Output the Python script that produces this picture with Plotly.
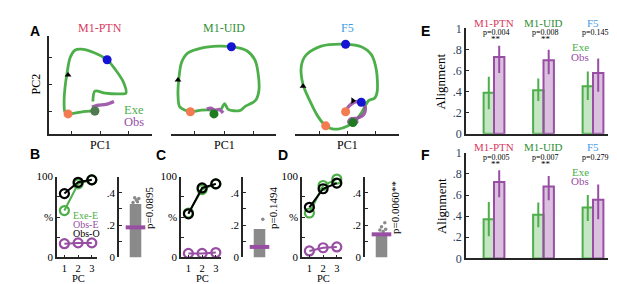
import plotly.graph_objects as go

W, H = 617, 284
SERIF = "Liberation Serif, Times New Roman, serif"
SANS = "Liberation Sans, Arial, sans-serif"

GREEN = "#4daf4a"
PURPLE = "#984ea3"
ORANGE = "#f47a52"
BLUE = "#1414d2"
DKGREEN = "#1e7b1e"
AXC = "#262626"
C_PTN = "#d9385e"
C_UID = "#2f8f35"
C_F5 = "#3d9be9"

# ---------------- DATA ----------------
# A: neural trajectories in PC1/PC2 space
ptn_exe_x = [-0.25, -0.18, 0.18, 0.63, 0.91, 0.81, 0.53, 0.25, -0.18, -0.67, -0.88, -1.05, -1.16, -1.23, -1.26, -1.23, -1.12, -0.67, -0.18]
ptn_exe_y = [-0.63, -0.25, -0.32, -0.35, -0.32, 0.11, 0.56, 0.91, 1.16, 1.30, 1.26, 0.98, 0.39, -0.14, -0.70, -1.02, -1.09, -1.02, -0.98]
ptn_obs_x = [-0.28, -0.07, 0.21, 0.49]
ptn_obs_y = [-0.84, -0.77, -0.74, -0.63]
ptn_orange = [[-1.12], [-1.09]]
ptn_blue = [[0.25], [0.91]]
ptn_green = [[-0.18], [-0.98]]
ptn_arrow = [[-1.12], [0.35]]

uid_exe_x = [-0.09, 0.02, 0.14, 0.53, 0.72, 1.06, 1.18, 1.15, 1.04, 0.76, 0.25, -0.20, -0.77, -1.22, -1.44, -1.53, -1.56, -1.50, -1.14, -0.77, -0.37, -0.34]
uid_exe_y = [-0.92, -0.71, -0.92, -0.97, -0.81, -0.60, -0.25, 0.46, 0.92, 1.25, 1.39, 1.41, 1.34, 1.16, 0.81, 0.22, -0.36, -0.83, -1.01, -0.95, -0.97, -1.09]
uid_obs_x = [-0.58, -0.45, -0.30, -0.15, -0.03]
uid_obs_y = [-0.91, -0.88, -0.95, -0.93, -1.05]
uid_orange = [[-1.14], [-1.01]]
uid_blue = [[0.25], [1.39]]
uid_green = [[-0.34], [-1.09]]
uid_arrow = [[-1.56], [0.16]]

f5_exe_x = [0.63, 0.51, 0.33, 0.04, -0.32, -0.56, -0.76, -1.04, -1.33, -1.57, -1.63, -1.45, -0.92, -0.05, 0.51, 0.87, 1.05, 1.08, 0.99, 0.77, 0.63]
f5_exe_y = [-0.83, -1.06, -1.30, -1.53, -1.65, -1.63, -1.53, -1.18, -0.60, -0.01, 0.69, 1.10, 1.41, 1.48, 1.39, 1.10, 0.52, -0.25, -0.50, -0.60, -0.83]
f5_obs_x = [-0.05, 0.06, 0.30, 0.51, 0.65, 0.61, 0.39, 0.13, 0.06, 0.18, 0.35, 0.30]
f5_obs_y = [-1.01, -0.81, -0.64, -0.66, -0.83, -1.09, -1.24, -1.27, -1.39, -1.48, -1.39, -1.24]
f5_orange = [[-0.76, -0.05], [-1.53, -1.01]]
f5_blue = [[-0.05, 0.51], [1.48, -0.66]]
f5_green = [[0.21], [-1.41]]
f5_arrow_up = [[-1.57], [-0.07]]
f5_arrow_right = [[0.21], [-0.60]]

# B-D: variance explained (%) by PC 1..3
pcs = [1, 2, 3]
B_exeE = [58, 91, 96]
B_obsE = [17, 18, 18]
B_obsO = [79, 93, 96]
C_exeE = [55, 84, 91]
C_obsE = [5, 5, 6]
C_obsO = [54, 86, 91]
D_exeE = [55, 89, 97]
D_obsE = [8, 12, 13]
D_obsO = [62, 85, 92]

# B-D: shuffled distribution (bulk top, outliers) and observed value
B_shuf_top = 0.33
B_out_x = [-0.15, 0.05, 0.2, -0.05, 0.12]
B_out_y = [0.34, 0.355, 0.365, 0.37, 0.345]
B_obs = 0.186
B_p = "p=0.0895"
C_shuf_top = 0.176
C_out_x = [0.2]
C_out_y = [0.236]
C_obs = 0.065
C_p = "p=0.1494"
D_shuf_top = 0.148
D_out_x = [0.1, 0.25, -0.1, 0.0, 0.2]
D_out_y = [0.16, 0.175, 0.17, 0.19, 0.215]
D_obs = 0.143
D_p = "p=0.0060**"

# E-F: alignment
groups = ["M1-PTN", "M1-UID", "F5"]
group_colors = [C_PTN, C_UID, C_F5]
E_exe = [0.39, 0.414, 0.45]
E_exe_lo = [0.234, 0.31, 0.32]
E_exe_hi = [0.54, 0.525, 0.59]
E_obs = [0.727, 0.697, 0.577]
E_obs_lo = [0.577, 0.565, 0.40]
E_obs_hi = [0.835, 0.796, 0.715]
E_p = ["p=0.004", "p=0.008", "p=0.145"]
E_star = ["**", "**", ""]
F_exe = [0.37, 0.414, 0.483]
F_exe_lo = [0.21, 0.294, 0.354]
F_exe_hi = [0.535, 0.53, 0.60]
F_obs = [0.724, 0.68, 0.556]
F_obs_lo = [0.58, 0.55, 0.37]
F_obs_hi = [0.835, 0.78, 0.70]
F_p = ["p=0.005", "p=0.007", "p=0.279"]
F_star = ["**", "**", ""]

# ---------------- helpers ----------------
def dx(a, b):
    return [a / W, b / W]

def dy(top, bottom):
    return [1 - bottom / H, 1 - top / H]

fig = go.Figure()
ann = []

def txt(x, y, s, size=11, color="black", family=SERIF, angle=0, xanchor="center"):
    ann.append(dict(x=x / W, y=1 - y / H, xref="paper", yref="paper", text=s,
                    showarrow=False, textangle=angle, xanchor=xanchor, yanchor="middle",
                    font=dict(family=family, size=size, color=color)))

def base_axis(**kw):
    d = dict(showgrid=False, zeroline=False, showline=True, linecolor=AXC, linewidth=1.5,
             ticks="inside", ticklen=3, tickcolor=AXC, tickwidth=1.2,
             tickfont=dict(family=SERIF, size=11, color="black"), fixedrange=True)
    d.update(kw)
    return d

layout_axes = {}

# ---------- A panels ----------
A_specs = [
    (1, 41, 144, 92, 28.5, True, ptn_exe_x, ptn_exe_y, ptn_obs_x, ptn_obs_y, ptn_orange, ptn_blue, ptn_green, [ptn_arrow], "M1-PTN", C_PTN),
    (2, 163, 268, 216, 29.5, False, uid_exe_x, uid_exe_y, uid_obs_x, uid_obs_y, uid_orange, uid_blue, uid_green, [uid_arrow], "M1-UID", C_UID),
    (3, 287, 391, 339, 28.0, False, f5_exe_x, f5_exe_y, f5_obs_x, f5_obs_y, f5_orange, f5_blue, f5_green, [f5_arrow_up], "F5", C_F5),
]
for (i, x0, x1, xc, sp, showy, ex, ey, ox, oy, orng, blu, grn, arrows, title, tcol) in A_specs:
    xa = "x" if i == 1 else f"x{i}"
    ya = "y" if i == 1 else f"y{i}"
    layout_axes["xaxis" if i == 1 else f"xaxis{i}"] = base_axis(
        domain=dx(x0, x1), range=[(x0 - xc) / sp, (x1 - xc) / sp], anchor=ya,
        tickvals=[-1, 0, 1], showticklabels=False)
    yk = "yaxis" if i == 1 else f"yaxis{i}"
    if showy:
        layout_axes[yk] = base_axis(domain=dy(22, 125), range=[(73 - 125) / 28.5, (73 - 22) / 28.5],
                                    anchor=xa, tickvals=[-1, 0, 1], showticklabels=False)
    else:
        layout_axes[yk] = dict(domain=dy(22, 125), range=[(73 - 125) / 28.5, (73 - 22) / 28.5],
                               anchor=xa, visible=False, fixedrange=True)
    fig.add_trace(go.Scatter(x=ex, y=ey, mode="lines", line=dict(color=GREEN, width=2.8, shape="spline", smoothing=0.8),
                             xaxis=xa, yaxis=ya, cliponaxis=False, showlegend=False))
    fig.add_trace(go.Scatter(x=ox, y=oy, mode="lines", line=dict(color=PURPLE, width=3.4, shape="spline", smoothing=0.8),
                             xaxis=xa, yaxis=ya, cliponaxis=False, showlegend=False, opacity=0.9))
    for pts, col in [(orng, ORANGE), (blu, BLUE), (grn, DKGREEN)]:
        fig.add_trace(go.Scatter(x=pts[0], y=pts[1], mode="markers",
                                 marker=dict(color=col, size=9, line=dict(width=0)),
                                 xaxis=xa, yaxis=ya, cliponaxis=False, showlegend=False))
    for ar in arrows:
        fig.add_trace(go.Scatter(x=ar[0], y=ar[1], mode="markers",
                                 marker=dict(color="black", size=6, symbol="triangle-up"),
                                 xaxis=xa, yaxis=ya, cliponaxis=False, showlegend=False))
    txt(xc, 13.5, title, size=12, color=tcol)
    txt(xc, 137, "PC1", size=12)

# extra arrow in F5 (pointing right) and gray overlay on PTN green dot
fig.add_trace(go.Scatter(x=f5_arrow_right[0], y=f5_arrow_right[1], mode="markers",
                         marker=dict(color="black", size=6, symbol="triangle-right"),
                         xaxis="x3", yaxis="y3", cliponaxis=False, showlegend=False))
fig.add_trace(go.Scatter(x=ptn_green[0], y=ptn_green[1], mode="markers",
                         marker=dict(color="rgba(120,120,120,0.55)", size=9),
                         xaxis="x", yaxis="y", cliponaxis=False, showlegend=False))
txt(28, 73, "PC2", size=12, angle=-90)
txt(126, 100, "Exe", size=12.5, color=GREEN)
txt(126, 112.5, "Obs", size=12.5, color=PURPLE)

# ---------- B, C, D ----------
BCD = [
    (4, 49, 111, B_exeE, B_obsE, B_obsO, B_shuf_top, B_out_x, B_out_y, B_obs, B_p),
    (6, 173, 235, C_exeE, C_obsE, C_obsO, C_shuf_top, C_out_x, C_out_y, C_obs, C_p),
    (8, 294, 357, D_exeE, D_obsE, D_obsO, D_shuf_top, D_out_x, D_out_y, D_obs, D_p),
]
off, sp = 7.4, 13.7
for (i, lx, rx, exe, obsE, obsO, top, oxs, oys, obsv, ptxt) in BCD:
    xa, ya = f"x{i}", f"y{i}"
    xr, yr = f"x{i+1}", f"y{i+1}"
    layout_axes[f"xaxis{i}"] = base_axis(domain=dx(lx, lx + 40), range=[1 - off / sp, 1 + (40 - off) / sp],
                                         anchor=ya, tickvals=[1, 2, 3], ticklabelstandoff=0,
                                         tickfont=dict(family=SERIF, size=10.5, color="black"))
    layout_axes[f"yaxis{i}"] = base_axis(domain=dy(170, 255), range=[0, 100], anchor=xa,
                                         tickvals=[0, 25, 50, 75, 100], ticktext=["0", "", "%", "", "100"])
    layout_axes[f"xaxis{i+1}"] = dict(domain=dx(rx, rx + 33), range=[-1, 1], anchor=yr, visible=False, fixedrange=True)
    layout_axes[f"yaxis{i+1}"] = base_axis(domain=dy(170, 255), range=[0, 0.5], anchor=xr,
                                           tickvals=[0, 0.1, 0.2, 0.3, 0.4, 0.5],
                                           ticktext=["0", "", ".2", "", ".4", ""])
    for vals, col in [(exe, GREEN), (obsE, PURPLE), (obsO, "black")]:
        fig.add_trace(go.Scatter(x=pcs, y=vals, mode="lines+markers",
                                 line=dict(color=col, width=2),
                                 marker=dict(symbol="circle-open", size=9, color=col, line=dict(width=2.2)),
                                 xaxis=xa, yaxis=ya, cliponaxis=False, showlegend=False))
    fig.add_trace(go.Bar(x=[0], y=[top], width=0.7, marker=dict(color="#8a8a8a", line=dict(width=0)),
                         xaxis=xr, yaxis=yr, showlegend=False))
    fig.add_trace(go.Scatter(x=oxs, y=oys, mode="markers", marker=dict(color="#8a8a8a", size=3.5),
                             xaxis=xr, yaxis=yr, cliponaxis=False, showlegend=False))
    fig.add_trace(go.Scatter(x=[0], y=[obsv], mode="markers",
                             marker=dict(symbol="line-ew", size=14, line=dict(color=PURPLE, width=4)),
                             xaxis=xr, yaxis=yr, cliponaxis=False, showlegend=False))
    txt(lx + 21, 277, "PC", size=10.5)
    txt(rx + 30, 203, ptxt, size=11, angle=-90)

txt(63, 211, "Exe-E", size=10, color=GREEN, xanchor="left")
txt(63, 220.5, "Obs-E", size=10, color=PURPLE, xanchor="left")
txt(63, 230, "Obs-O", size=10, color="black", xanchor="left")

# ---------- E, F ----------
EF = [
    (10, 14, 125, E_exe, E_exe_lo, E_exe_hi, E_obs, E_obs_lo, E_obs_hi, E_p, E_star, 0),
    (11, 145, 256, F_exe, F_exe_lo, F_exe_hi, F_obs, F_obs_lo, F_obs_hi, F_p, F_star, 131),
]
gx = [0, 1, 2]
xc0, gsp = 486, 49.5
for (i, ytop, ybot, exe, elo, ehi, obs, olo, ohi, ps, stars, dyo) in EF:
    xa, ya = f"x{i}", f"y{i}"
    layout_axes[f"xaxis{i}"] = base_axis(domain=dx(458, 600), range=[(458 - xc0) / gsp, (600 - xc0) / gsp],
                                         anchor=ya, ticks="", showticklabels=False)
    layout_axes[f"yaxis{i}"] = base_axis(domain=dy(ytop, ybot), range=[0, 1], anchor=xa,
                                         tickvals=[0, 0.2, 0.4, 0.6, 0.8, 1],
                                         ticktext=["0", ".2", ".4", ".6", ".8", "1"], tickfont=dict(family=SERIF, size=12))
    fig.add_trace(go.Bar(x=gx, y=exe, width=0.21, offset=-0.21,
                         marker=dict(color="rgba(77,175,74,0.32)", line=dict(color=GREEN, width=2)),
                         error_y=dict(type="data", symmetric=False,
                                      array=[h - v for h, v in zip(ehi, exe)],
                                      arrayminus=[v - l for v, l in zip(exe, elo)],
                                      color=GREEN, thickness=2, width=0),
                         xaxis=xa, yaxis=ya, showlegend=False))
    fig.add_trace(go.Bar(x=gx, y=obs, width=0.21, offset=0.0,
                         marker=dict(color="rgba(152,78,163,0.35)", line=dict(color=PURPLE, width=2)),
                         error_y=dict(type="data", symmetric=False,
                                      array=[h - v for h, v in zip(ohi, obs)],
                                      arrayminus=[v - l for v, l in zip(obs, olo)],
                                      color=PURPLE, thickness=2, width=0),
                         xaxis=xa, yaxis=ya, showlegend=False))
    for k in range(3):
        cx = xc0 + gsp * k
        txt(cx + 0, 8 + dyo, groups[k], size=11, color=group_colors[k])
        txt(cx + 2, 18.5 + dyo, ps[k], size=8)
        if stars[k]:
            txt(cx + 2, 25.5 + dyo, stars[k], size=9)
    txt(433, 70 + dyo, "Alignment", size=13, angle=-90)
    txt(572, 34 + dyo, "Exe", size=11, color=GREEN)
    txt(572, 44 + dyo, "Obs", size=11, color=PURPLE)

# panel letters
for s, x, y in [("A", 27, 17), ("B", 27, 146), ("C", 153, 147), ("D", 275, 147), ("E", 417, 17), ("F", 417, 147)]:
    txt(x, y, "<b>" + s + "</b>", size=14, family=SANS)

fig.update_layout(width=W, height=H, margin=dict(l=0, r=0, t=0, b=0), autosize=False,
                  paper_bgcolor="white", plot_bgcolor="white", barmode="overlay",
                  showlegend=False, annotations=ann, **layout_axes)

fig.write_html("out.html")
